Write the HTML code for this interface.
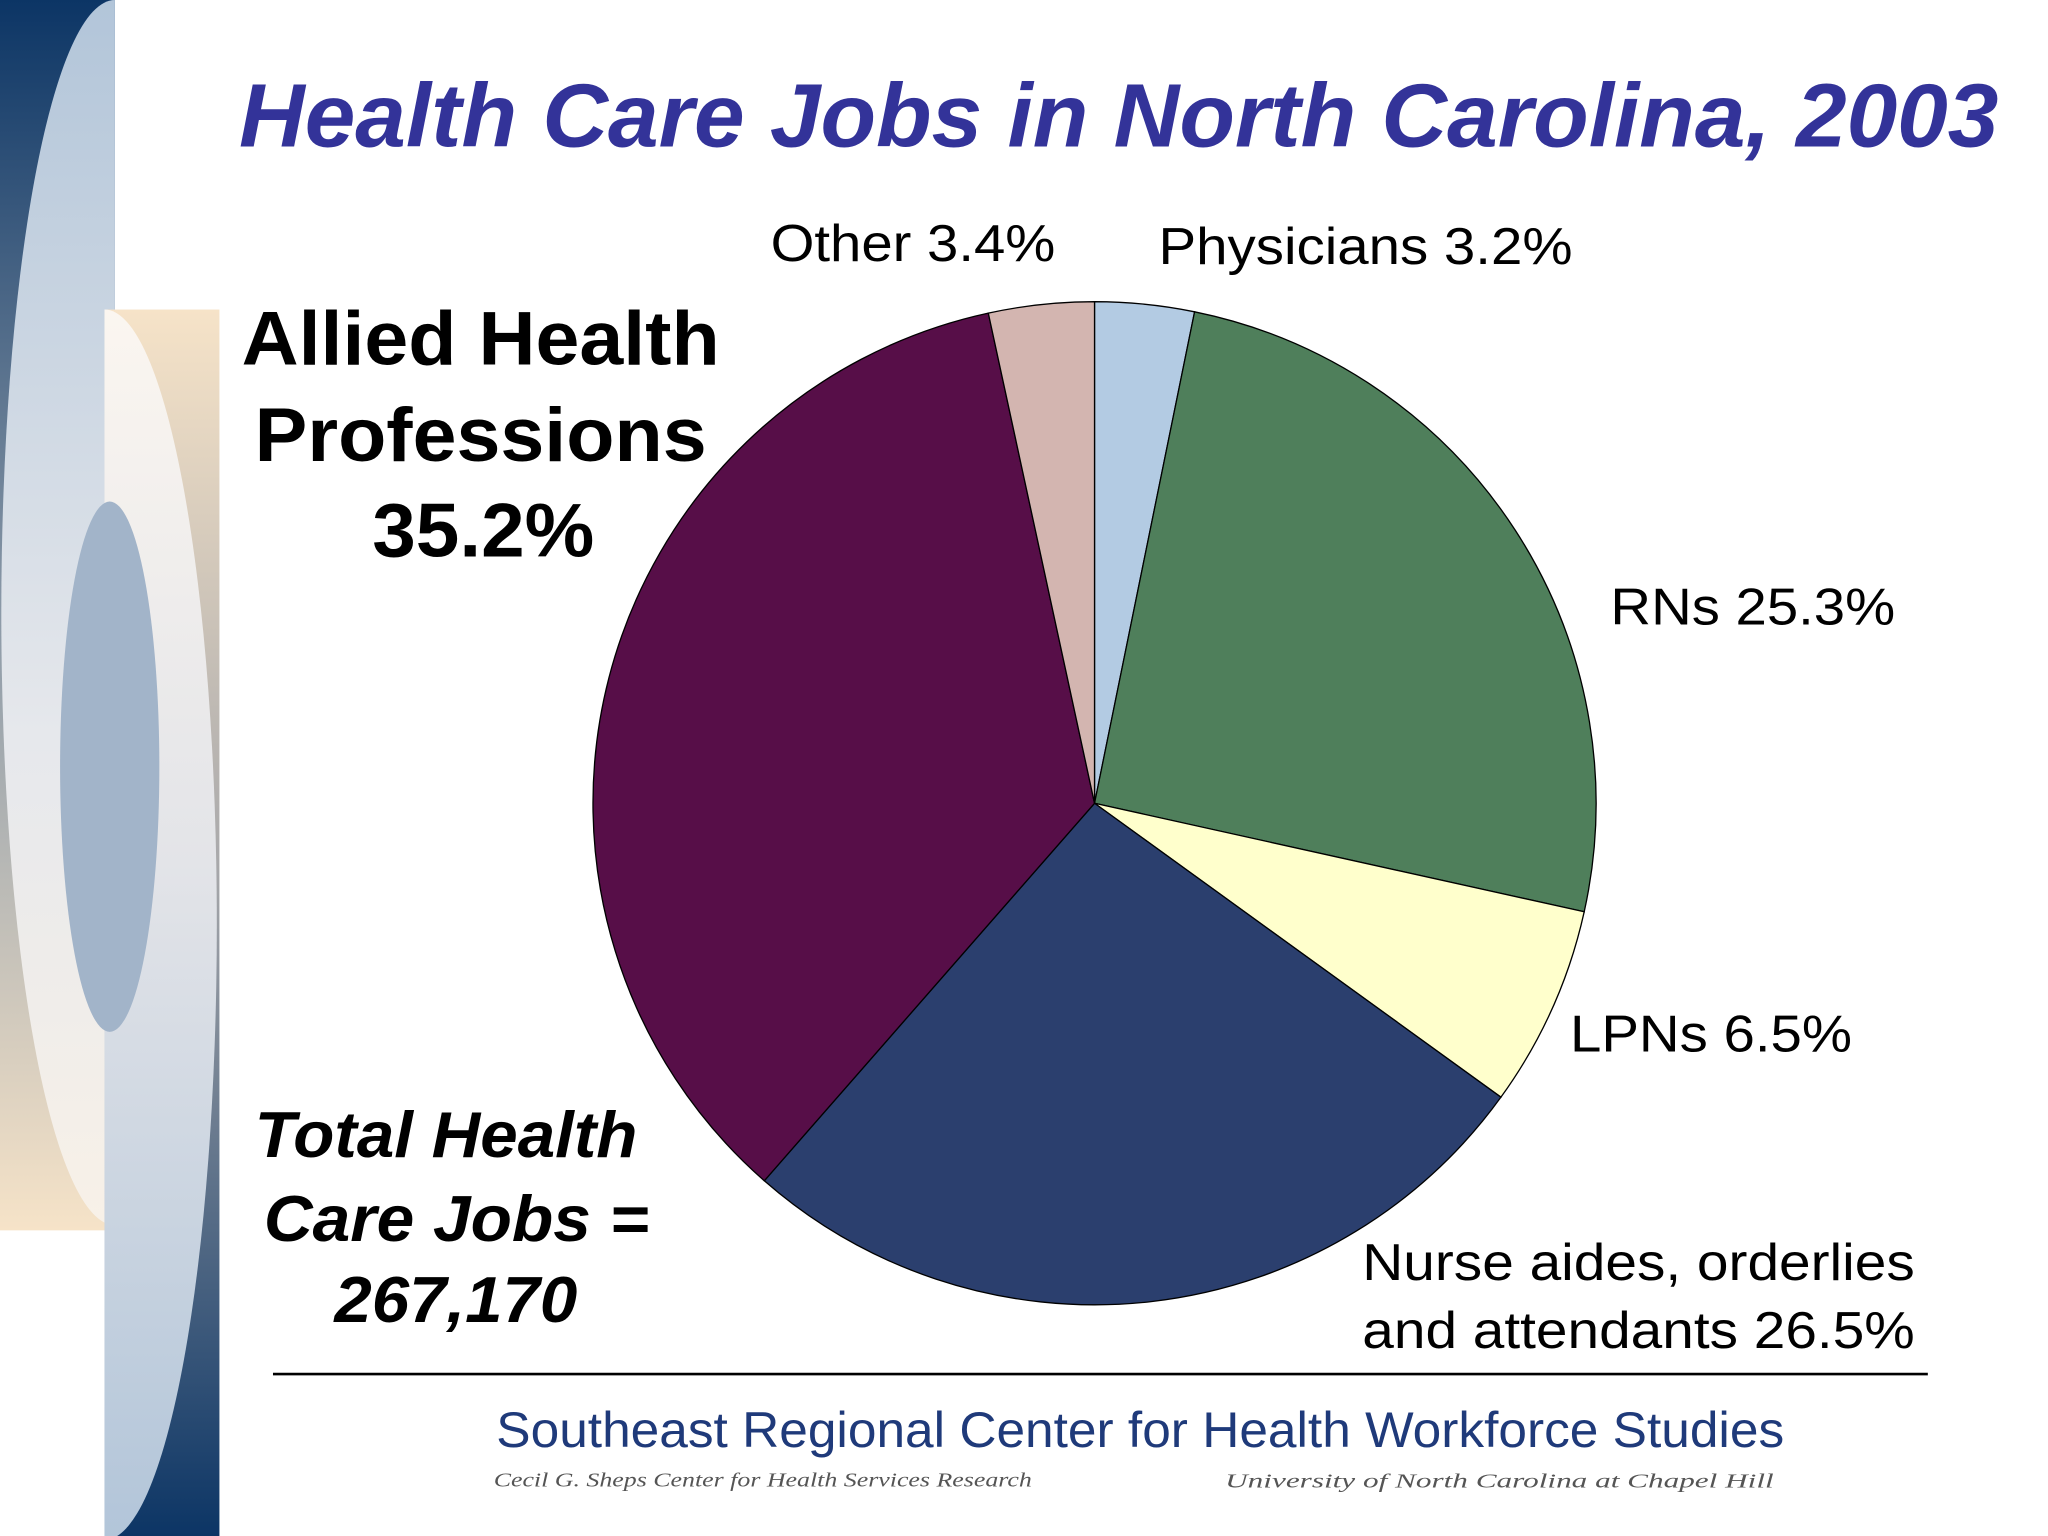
<!DOCTYPE html>
<html><head><meta charset="utf-8"><style>html,body{margin:0;padding:0;background:#fff}svg{display:block}</style></head>
<body>
<svg width="2048" height="1536" viewBox="0 0 1568 1176" xmlns="http://www.w3.org/2000/svg" font-family="Liberation Sans, Arial, sans-serif">
<defs>
<linearGradient id="gA" x1="0" y1="0" x2="0" y2="1">
<stop offset="0" stop-color="#0c3565"/><stop offset="0.5" stop-color="#8c9aa8"/><stop offset="1" stop-color="#f6e3c8"/></linearGradient>
<linearGradient id="gAe" x1="0" y1="0" x2="0" y2="1">
<stop offset="0" stop-color="#b2c5d9"/><stop offset="0.6" stop-color="#e6e8ec"/><stop offset="1" stop-color="#f8f1e8"/></linearGradient>
<linearGradient id="gB" x1="0" y1="0" x2="0" y2="1">
<stop offset="0" stop-color="#f6e3c8"/><stop offset="0.45" stop-color="#a9a9ab"/><stop offset="1" stop-color="#0c3565"/></linearGradient>
<linearGradient id="gBe" x1="0" y1="0" x2="0" y2="1">
<stop offset="0" stop-color="#fbf6f0"/><stop offset="0.45" stop-color="#e3e4e8"/><stop offset="1" stop-color="#b2c5d9"/></linearGradient>
<clipPath id="cA"><rect x="0" y="0" width="88" height="942"/></clipPath>
<clipPath id="cB"><rect x="80" y="237" width="88" height="939"/></clipPath>
</defs>
<g>
<rect x="0" y="0" width="88" height="942" fill="url(#gA)"/>
<ellipse cx="88" cy="469" rx="87" ry="469" fill="url(#gAe)" clip-path="url(#cA)"/>
<rect x="80" y="237" width="88" height="939" fill="url(#gB)"/>
<ellipse cx="80" cy="708" rx="86" ry="471" fill="url(#gBe)" clip-path="url(#cB)"/>
<ellipse cx="84" cy="587" rx="38" ry="203" fill="#a2b4c9"/>
</g>
<text x="183" y="112" font-size="69" font-weight="bold" font-style="italic" fill="#333399" textLength="1347" lengthAdjust="spacingAndGlyphs">Health Care Jobs in North Carolina, 2003</text>
<g id="pie"></g>
<g font-size="40" fill="#000">
<text x="590" y="200" textLength="218" lengthAdjust="spacingAndGlyphs">Other 3.4%</text>
<text x="887" y="202" textLength="317" lengthAdjust="spacingAndGlyphs">Physicians 3.2%</text>
<text x="1233" y="478" textLength="218" lengthAdjust="spacingAndGlyphs">RNs 25.3%</text>
<text x="1202" y="805" textLength="216" lengthAdjust="spacingAndGlyphs">LPNs 6.5%</text>
<text x="1043" y="980" textLength="423" lengthAdjust="spacingAndGlyphs">Nurse aides, orderlies</text>
<text x="1043" y="1032" textLength="423" lengthAdjust="spacingAndGlyphs">and attendants 26.5%</text>
</g>
<g font-size="58" font-weight="bold">
<text x="185" y="279" textLength="366" lengthAdjust="spacingAndGlyphs">Allied Health</text>
<text x="195" y="353" textLength="346" lengthAdjust="spacingAndGlyphs">Professions</text>
<text x="285" y="426" textLength="170" lengthAdjust="spacingAndGlyphs">35.2%</text>
</g>
<g font-size="50" font-weight="bold" font-style="italic">
<text x="195" y="886" textLength="293" lengthAdjust="spacingAndGlyphs">Total Health</text>
<text x="202" y="950" textLength="295" lengthAdjust="spacingAndGlyphs">Care Jobs =</text>
<text x="256" y="1012" textLength="186" lengthAdjust="spacingAndGlyphs">267,170</text>
</g>
<line x1="209" y1="1052" x2="1476" y2="1052" stroke="#000" stroke-width="2"/>
<text x="380" y="1108" font-size="38" fill="#1f3a7a" font-family="Liberation Sans Narrow, Liberation Sans, sans-serif" textLength="986" lengthAdjust="spacingAndGlyphs">Southeast Regional Center for Health Workforce Studies</text>
<text x="378" y="1138" font-size="15" font-style="italic" fill="#555" font-family="Liberation Serif, serif" textLength="412" lengthAdjust="spacingAndGlyphs">Cecil G. Sheps Center for Health Services Research</text>
<text x="938" y="1139" font-size="15" font-style="italic" fill="#555" font-family="Liberation Serif, serif" textLength="420" lengthAdjust="spacingAndGlyphs">University of North Carolina at Chapel Hill</text>
</svg>
<script>
const categories = ["Physicians","RNs","LPNs","Nurse aides","Allied Health","Other"];
const values = [3.2, 25.3, 6.5, 26.5, 35.2, 3.4];
const colors = ["#b3cbe3","#4f7f5b","#ffffcc","#2b3f6e","#570e48","#d3b5b0"];
const g = document.getElementById('pie');
const cx = 838, cy = 615, r = 384;
const total = values.reduce((a,b)=>a+b,0);
let a0 = 0;
function pt(a){ return [cx + r*Math.sin(a), cy - r*Math.cos(a)]; }
values.forEach((v,i)=>{
  const a1 = a0 + v/total*2*Math.PI;
  const p0 = pt(a0), p1 = pt(a1);
  const large = (a1-a0) > Math.PI ? 1 : 0;
  const path = document.createElementNS('http://www.w3.org/2000/svg','path');
  path.setAttribute('d', `M${cx},${cy} L${p0[0]},${p0[1]} A${r},${r} 0 ${large} 1 ${p1[0]},${p1[1]} Z`);
  path.setAttribute('fill', colors[i]);
  path.setAttribute('stroke', '#000');
  path.setAttribute('stroke-width', '1');
  
  
  g.appendChild(path);
  a0 = a1;
});
</script>
</body></html>
